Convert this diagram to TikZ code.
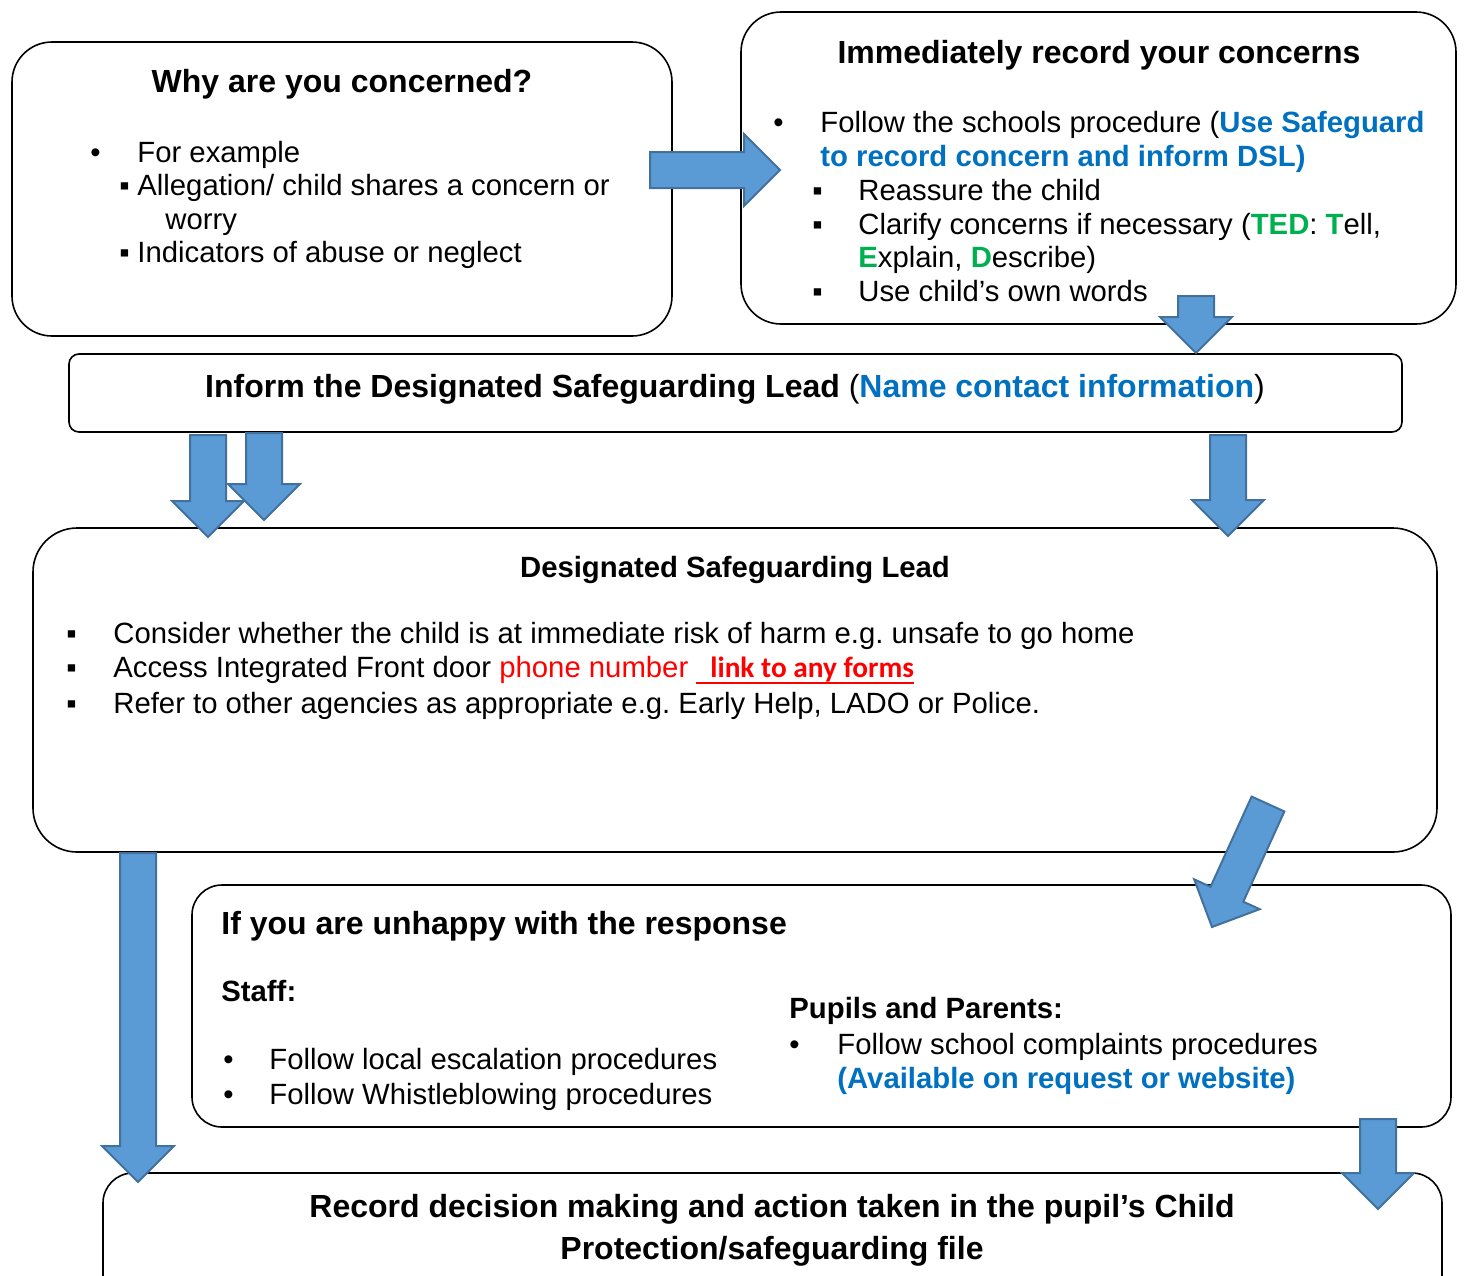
\documentclass[tikz,border=0pt]{standalone}
\usepackage{fontspec}
\setmainfont{Liberation Sans}
\newfontfamily\linkfont{Carlito}
\usetikzlibrary{calc}
\frenchspacing

\definecolor{linkblue}{HTML}{0070C0}
\definecolor{tedgreen}{HTML}{00B050}
\definecolor{alertred}{HTML}{FF0000}
\definecolor{arrowfill}{HTML}{5B9BD5}
\definecolor{arrowline}{HTML}{41719C}

\newcommand{\bodysize}{\fontsize{14.65}{17}\selectfont}
\newcommand{\headsize}{\fontsize{16}{19}\selectfont\bfseries}

% underlined link text
\newsavebox{\linkbox}
\newcommand{\redlink}[1]{\sbox{\linkbox}{#1}\rlap{\rule[-3.5pt]{\wd\linkbox}{1pt}}\usebox{\linkbox}}

% block arrow from tail #1 to tip #2
\newcommand{\blockarrow}[2]{%
  \coordinate (#1-hb) at ($(#2)!18pt!(#1)$);
  \draw[bigarrow] ($(#1)!9pt!90:(#2)$) -- ($(#1-hb)!9pt!90:(#2)$) -- ($(#1-hb)!18pt!90:(#2)$)
    -- (#2) -- ($(#1-hb)!18pt!-90:(#2)$) -- ($(#1-hb)!9pt!-90:(#2)$) -- ($(#1)!9pt!-90:(#2)$) -- cycle;}

\begin{document}
\begin{tikzpicture}[
    x=0.5pt, y=-0.5pt,
    box/.style={rectangle, draw=black, line width=0.8pt, rounded corners=#1, inner sep=0pt},
    txt/.style={anchor=base west, inner sep=0pt, font=\bodysize},
    title/.style={anchor=base, inner sep=0pt, font=\headsize},
    bulletmark/.style={anchor=base west, inner sep=0pt, font=\bodysize},
    bigarrow/.style={fill=arrowfill, draw=arrowline, line width=1pt, line join=miter}
]
    \clip (0,0) rectangle (1464,1276);

    % Why are you concerned?
    \node[box=20pt, minimum width=330pt, minimum height=147pt] (why) at (342,189) {};
    \node[title] (why-t) at (342,92) {Why are you concerned?};
    \node[bulletmark] (why-b1) at (90,162) {•};
    \node[txt] (why-l1) at (137,162) {For example};
    \node[bulletmark] (why-b2) at (119,195) {▪};
    \node[txt] (why-l2) at (137,195) {Allegation/ child shares a concern or};
    \node[txt] (why-l3) at (165,229) {worry};
    \node[bulletmark] (why-b3) at (119,262) {▪};
    \node[txt] (why-l4) at (137,262) {Indicators of abuse or neglect};

    % Immediately record your concerns
    \node[box=20pt, minimum width=357.5pt, minimum height=156pt] (record) at (1098.5,168) {};
    \node[title] (record-t) at (1099,63) {Immediately record your concerns};
    \node[bulletmark] (record-b1) at (773,132) {•};
    \node[txt] (record-l1) at (820,132) {Follow the schools procedure (\textcolor{linkblue}{\bfseries Use Safeguard}};
    \node[txt] (record-l2) at (820,166) {\color{linkblue}\bfseries to record concern and inform DSL)};
    \node[bulletmark] (record-b2) at (812,200) {▪};
    \node[txt] (record-l3) at (858,200) {Reassure the child};
    \node[bulletmark] (record-b3) at (812,234) {▪};
    \node[txt] (record-l4) at (858,234) {Clarify concerns if necessary (\textcolor{tedgreen}{\bfseries TED}: \textcolor{tedgreen}{\bfseries T}ell,};
    \node[txt] (record-l5) at (858,267) {\textcolor{tedgreen}{\bfseries E}xplain, \textcolor{tedgreen}{\bfseries D}escribe)};
    \node[bulletmark] (record-b4) at (812,301) {▪};
    \node[txt] (record-l6) at (858,301) {Use child’s own words};

    % Inform the DSL
    \node[box=5pt, minimum width=666.5pt, minimum height=39pt] (inform) at (735.5,393) {};
    \node[title] (inform-t) at (735,397) {Inform the Designated Safeguarding Lead \mdseries(\textcolor{linkblue}{\bfseries Name contact information})};

    % Designated Safeguarding Lead
    \node[box=22pt, minimum width=702pt, minimum height=162pt] (dsl) at (735,690) {};
    \node[title, font=\bodysize\bfseries] (dsl-t) at (735,577) {Designated Safeguarding Lead};
    \node[bulletmark] (dsl-b1) at (66,643) {▪};
    \node[txt] (dsl-l1) at (113,643) {Consider whether the child is at immediate risk of harm e.g. unsafe to go home};
    \node[bulletmark] (dsl-b2) at (66,677) {▪};
    \node[txt] (dsl-l2) at (113,677) {Access Integrated Front door \textcolor{alertred}{phone number}\hspace{4pt}{\color{alertred}\redlink{\linkfont\bfseries\hspace{7pt}link to any forms}}};
    \node[bulletmark] (dsl-b3) at (66,713) {▪};
    \node[txt] (dsl-l3) at (113,713) {Refer to other agencies as appropriate e.g. Early Help, LADO or Police.};

    % If you are unhappy with the response
    \node[box=15pt, minimum width=629.5pt, minimum height=121pt] (unhappy) at (821.5,1006) {};
    \node[title, anchor=base west] (unhappy-t) at (221,934) {If you are unhappy with the response};
    \node[txt, font=\bodysize\bfseries] (staff-t) at (221,1001) {Staff:};
    \node[bulletmark] (staff-b1) at (223,1069) {•};
    \node[txt] (staff-l1) at (269,1069) {Follow local escalation procedures};
    \node[bulletmark] (staff-b2) at (223,1104) {•};
    \node[txt] (staff-l2) at (269,1104) {Follow Whistleblowing procedures};
    \node[txt, font=\bodysize\bfseries] (pupils-t) at (789,1018) {Pupils and Parents:};
    \node[bulletmark] (pupils-b1) at (789,1054) {•};
    \node[txt] (pupils-l1) at (837,1054) {Follow school complaints procedures};
    \node[txt] (pupils-l2) at (837,1088) {\color{linkblue}\bfseries(Available on request or website)};

    % Record decision making
    \node[box=15pt, minimum width=669.5pt, minimum height=83pt] (decision) at (772.5,1256) {};
    \node[title] (decision-l1) at (772,1217) {Record decision making and action taken in the pupil’s Child};
    \node[title] (decision-l2) at (772,1259) {Protection/safeguarding file};

    % Block arrows
    \coordinate (a1) at (650,170);   \coordinate (a1-tip) at (780,170);
    \coordinate (a2) at (1196,296);  \coordinate (a2-tip) at (1196,353);
    \coordinate (a3) at (264,433);   \coordinate (a3-tip) at (264,520);
    \coordinate (a4) at (208,435);   \coordinate (a4-tip) at (208,537);
    \coordinate (a5) at (1228,435);  \coordinate (a5-tip) at (1228,536);
    \coordinate (a6) at (1268,804);  \coordinate (a6-tip) at (1212,927);
    \coordinate (a7) at (138,853);   \coordinate (a7-tip) at (138,1182);
    \coordinate (a8) at (1378,1119); \coordinate (a8-tip) at (1378,1209);
    \blockarrow{a1}{a1-tip}
    \blockarrow{a2}{a2-tip}
    \blockarrow{a3}{a3-tip}
    \blockarrow{a4}{a4-tip}
    \blockarrow{a5}{a5-tip}
    \blockarrow{a6}{a6-tip}
    \blockarrow{a7}{a7-tip}
    \blockarrow{a8}{a8-tip}
\end{tikzpicture}
\end{document}
